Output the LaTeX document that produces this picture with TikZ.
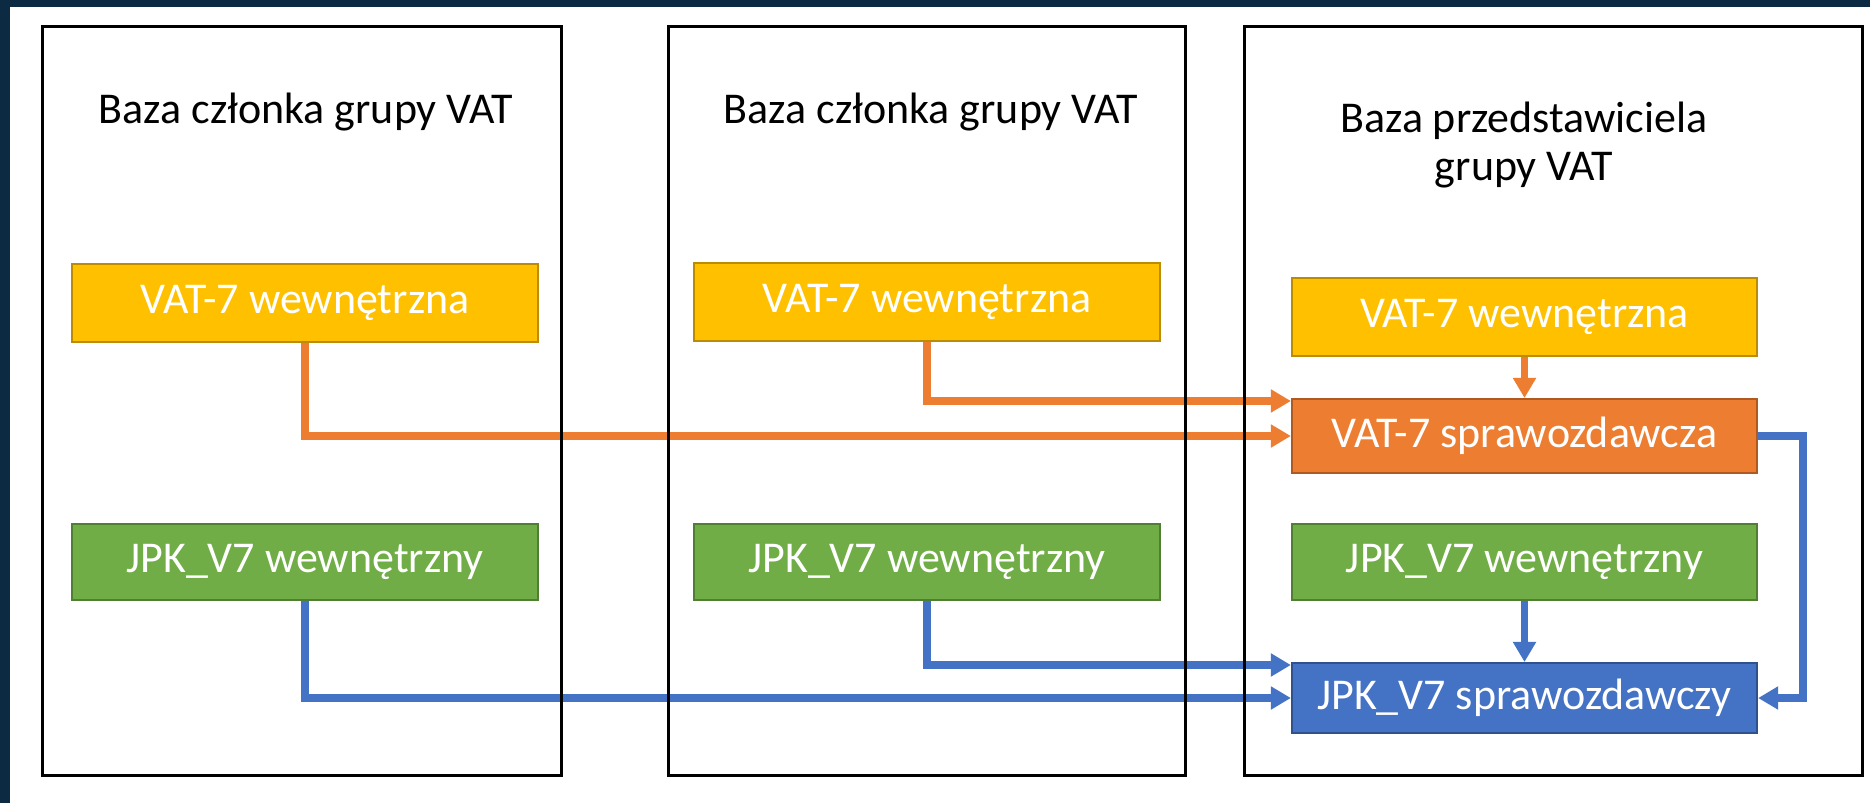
\documentclass[tikz,border=0pt]{standalone}
\usepackage{fontspec}
\setmainfont{Carlito}
\usetikzlibrary{arrows.meta}

\definecolor{granat}{RGB}{12,42,66}
\definecolor{zolty}{RGB}{255,192,0}
\definecolor{zoltyr}{RGB}{188,140,0}
\definecolor{pomar}{RGB}{237,125,49}
\definecolor{pomarr}{RGB}{174,90,33}
\definecolor{zielony}{RGB}{112,173,71}
\definecolor{zielonyr}{RGB}{80,126,50}
\definecolor{niebieski}{RGB}{68,114,196}
\definecolor{niebieskir}{RGB}{47,82,143}

\begin{document}
\begin{tikzpicture}[x=0.01cm,y=-0.01cm,
    napis/.style={font=\fontsize{12.5}{13.5}\selectfont},
    baza/.style={draw,rectangle,line width=0.03cm,minimum height=7.48cm,inner sep=0pt},
    deklaracja/.style={napis,rectangle,draw,line width=0.02cm,minimum width=4.65cm,minimum height=0.75cm,inner sep=0pt,text=white},
    strzalka/.style={-{Triangle[length=0.2cm,width=0.22cm]},line width=0.075cm}]
                \fill[white] (0,0) rectangle (1870,803);
                \fill[granat] (0,0) rectangle (1870,7);
                \fill[granat] (0,0) rectangle (10,803);
                \useasboundingbox (0,0) rectangle (1870,803);

                \draw (305,303) node[deklaracja,fill=zolty,draw=zoltyr,minimum height=0.77cm] (vat1) {VAT-7 wewnętrzna};
                \draw (927,302) node[deklaracja,fill=zolty,draw=zoltyr,minimum height=0.77cm] (vat2) {VAT-7 wewnętrzna};
                \draw (1524.5,317) node[deklaracja,fill=zolty,draw=zoltyr,minimum height=0.77cm] (vat3) {VAT-7 wewnętrzna};
                \draw (1524.5,436) node[deklaracja,fill=pomar,draw=pomarr,minimum height=0.74cm] (vatspr) {VAT-7 sprawozdawcza};

                \draw (305,562) node[deklaracja,fill=zielony,draw=zielonyr] (jpk1) {JPK\_V7 wewnętrzny};
                \draw (927,562) node[deklaracja,fill=zielony,draw=zielonyr] (jpk2) {JPK\_V7 wewnętrzny};
                \draw (1524.5,562) node[deklaracja,fill=zielony,draw=zielonyr] (jpk3) {JPK\_V7 wewnętrzny};
                \draw (1524.5,698) node[deklaracja,fill=niebieski,draw=niebieskir,minimum height=0.7cm] (jpkspr) {JPK\_V7 sprawozdawczy};

                \draw[strzalka,pomar] (vat1.south) |- (vatspr.west);
                \draw[strzalka,pomar] (vat2.south) |- ([yshift=-0.03cm]vatspr.north west);
                \draw[strzalka,pomar] (vat3) -- (vatspr);
                \draw[strzalka,niebieski] (jpk1.south) |- (jpkspr.west);
                \draw[strzalka,niebieski] (jpk2.south) |- ([yshift=-0.03cm]jpkspr.north west);
                \draw[strzalka,niebieski] (jpk3) -- (jpkspr);
                \draw[strzalka,niebieski] (vatspr.east) -- ++(45,0) |- (jpkspr.east);

                \draw (302,401) node[baza,minimum width=5.18cm] (czlonek1) {};
                \draw (927,401) node[baza,minimum width=5.16cm] (czlonek2) {};
                \draw (1553.5,401) node[baza,minimum width=6.17cm] (przedst) {};

                \draw (306,123) node[napis,anchor=base] (tytul1) {Baza członka grupy VAT};
                \draw (931,123) node[napis,anchor=base] (tytul2) {Baza członka grupy VAT};
                \draw (1524,145) node[napis,align=center] (tytul3) {Baza przedstawiciela\\grupy VAT};
            \end{tikzpicture}
\end{document}
